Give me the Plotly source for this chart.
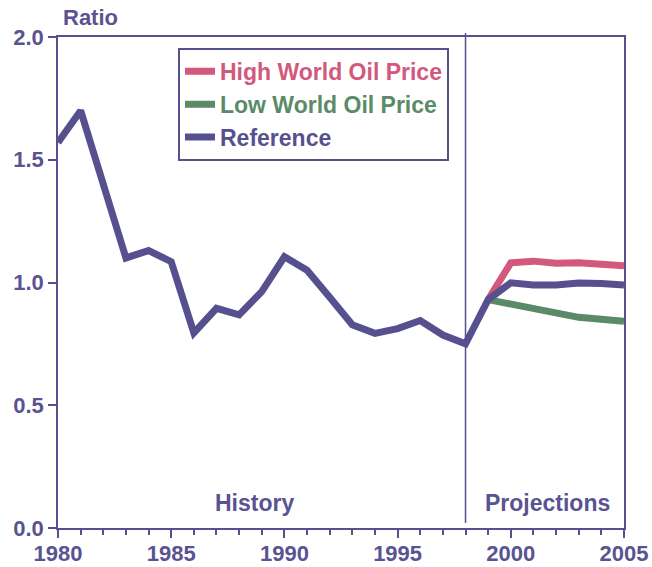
import plotly.graph_objects as go

# Ratio series
years_ref = list(range(1980, 2006))
reference = [1.57, 1.70, 1.40, 1.10, 1.13, 1.085, 0.795, 0.895, 0.868, 0.963,
             1.105, 1.05, 0.94, 0.828, 0.793, 0.812, 0.845, 0.786, 0.75,
             0.93, 0.999, 0.99, 0.99, 0.998, 0.996, 0.99]

years_proj = list(range(1999, 2006))
high_price = [0.93, 1.08, 1.087, 1.078, 1.08, 1.075, 1.068]
low_price = [0.93, 0.912, 0.89, 0.875, 0.858, 0.85, 0.842]

y_ticks = [0.0, 0.5, 1.0, 1.5, 2.0]
x_ticks = [1980, 1985, 1990, 1995, 2000, 2005]

PURPLE = "#57508F"
PINK = "#D2587D"
GREEN = "#5A8A67"
TEXT = "#5A5392"
FONT = "Liberation Sans, Arial, sans-serif"


def coloured(label, colour):
    return f"<span style='color:{colour}'>{label}</span>"


fig = go.Figure()
fig.add_trace(go.Scatter(x=years_proj, y=high_price, mode="lines",
                         name=coloured("High World Oil Price", PINK),
                         line=dict(color=PINK, width=7), legendgroup="h"))
fig.add_trace(go.Scatter(x=years_proj, y=low_price, mode="lines",
                         name=coloured("Low World Oil Price", GREEN),
                         line=dict(color=GREEN, width=7), legendgroup="l"))
fig.add_trace(go.Scatter(x=years_ref, y=reference, mode="lines",
                         name=coloured("Reference", PURPLE),
                         line=dict(color=PURPLE, width=7), legendgroup="r"))

# history / projections divider
fig.add_shape(type="line", xref="x", yref="paper", x0=1998, x1=1998, y0=0.01, y1=1.008,
              line=dict(color=PURPLE, width=1.5))

label_font = dict(size=23, color=TEXT, family=FONT, weight="bold")
fig.add_annotation(text="History", x=1988.7, y=0.051, xref="x", yref="paper",
                   yanchor="middle", showarrow=False, font=label_font)
fig.add_annotation(text="Projections", x=2001.6, y=0.051, xref="x", yref="paper",
                   yanchor="middle", showarrow=False, font=label_font)
fig.add_annotation(text="Ratio", x=0.005, y=1.039, xref="paper", yref="paper",
                   xanchor="left", yanchor="middle", showarrow=False,
                   font=dict(size=22, color=TEXT, family=FONT, weight="bold"))

fig.update_layout(
    width=652, height=567,
    margin=dict(l=58, r=28, t=37, b=39, autoexpand=False),
    plot_bgcolor="white", paper_bgcolor="white",
    font=dict(family=FONT, color=TEXT, size=22, weight="bold"),
    showlegend=True,
    legend=dict(x=0.212, y=0.978, xanchor="left", yanchor="top",
                bordercolor=PURPLE, borderwidth=2, bgcolor="white",
                font=dict(size=23, family=FONT, weight="bold"),
                tracegroupgap=0, itemwidth=30),
)
fig.update_xaxes(range=[1980, 2005], tickvals=x_ticks, showgrid=False, zeroline=False,
                 showline=True, linecolor=PURPLE, linewidth=1.5, mirror=True,
                 ticks="outside", ticklen=8, tickcolor=PURPLE, tickwidth=1.5,
                 ticklabelstandoff=-3,
                 minor=dict(dtick=1, ticks="outside", ticklen=5, tickcolor=PURPLE, tickwidth=1.5),
                 tickfont=dict(size=22, color=TEXT, family=FONT, weight="bold"))
fig.update_yaxes(range=[0, 2.0], tickvals=y_ticks, tickformat=".1f", showgrid=False, zeroline=False,
                 showline=True, linecolor=PURPLE, linewidth=1.5, mirror=True,
                 ticks="outside", ticklen=8, tickcolor=PURPLE, tickwidth=1.5,
                 tickfont=dict(size=22, color=TEXT, family=FONT, weight="bold"))

# drop the page's default body margin so the figure sits at the window's corner
fig.write_html("out.html", config={"displayModeBar": False},
               post_script="document.body.style.margin='0';")
